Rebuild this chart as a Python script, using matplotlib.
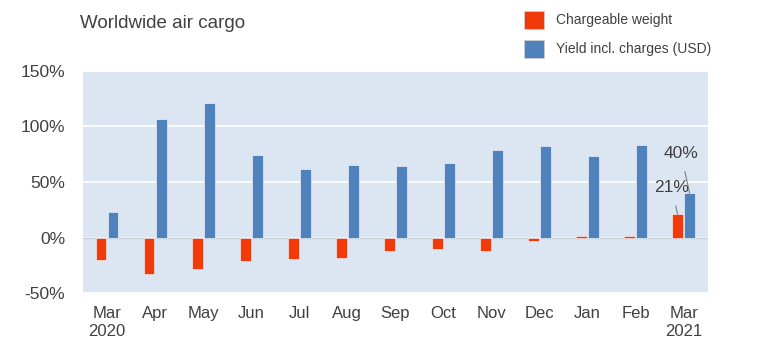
import numpy as np
import matplotlib.pyplot as plt
from matplotlib.patches import Rectangle

# === Data ===
months = ["Mar\n2020", "Apr", "May", "Jun", "Jul", "Aug", "Sep",
          "Oct", "Nov", "Dec", "Jan", "Feb", "Mar\n2021"]
weight = [-20, -33, -28, -21, -19, -18, -12, -10, -12, -3, 1, 1, 21]
yield_usd = [23, 107, 121, 74, 62, 65, 64, 67, 79, 82, 73, 83, 40]

RED = "#F03A0A"
BLUE = "#4F81BD"
BG = "#DCE6F2"
TXT = "#404040"

plt.rcParams["font.family"] = ["Liberation Sans", "DejaVu Sans"]

fig = plt.figure(figsize=(7.7, 3.49), dpi=100)
ax = fig.add_axes([0.108, 0.160, 0.811, 0.637])
ax.set_facecolor(BG)

x = np.arange(len(months))
w = 0.22
ax.bar(x - 0.125, weight, w, color=RED, edgecolor="white", linewidth=0.4, zorder=3)
ax.bar(x + 0.125, yield_usd, w, color=BLUE, edgecolor="white", linewidth=0.4, zorder=3)

ax.set_xlim(-0.5, len(months) - 0.5)
ax.set_ylim(-50, 150)
ax.set_yticks([-50, 0, 50, 100, 150])
ax.set_yticklabels(["-50%", "0%", "50%", "100%", "150%"], fontsize=12.5, color=TXT)
ax.yaxis.grid(True, color="white", linewidth=1.2, zorder=0)
ax.axhline(0, color="#C8CDD3", linewidth=1.0, zorder=2)
ax.set_xticks(x)
ax.set_xticklabels(months, fontsize=12, color=TXT, linespacing=1.25)
ax.tick_params(length=0, pad=9)
ax.tick_params(axis="y", pad=13)
for s in ax.spines.values():
    s.set_visible(False)

# labels for the latest month
last = len(months) - 1
ax.annotate(f"{yield_usd[last]}%", xy=(last + 0.125, yield_usd[last]),
            xytext=(last - 0.06, yield_usd[last] + 36), ha="center", va="center",
            fontsize=12.5, color=TXT,
            arrowprops=dict(arrowstyle="-", color="#808080", lw=0.8, shrinkA=6, shrinkB=0))
ax.annotate(f"{weight[last]}%", xy=(last - 0.125, weight[last]),
            xytext=(last - 0.25, weight[last] + 24), ha="center", va="center",
            fontsize=12.5, color=TXT,
            arrowprops=dict(arrowstyle="-", color="#808080", lw=0.8, shrinkA=6, shrinkB=0))

fig.text(0.104, 0.933, "Worldwide air cargo", fontsize=13.5, color=TXT, va="center")

# legend
for i, (lab, col) in enumerate([("Chargeable weight", RED),
                                ("Yield incl. charges (USD)", BLUE)]):
    yy = 1 - (20 + 29 * i) / 349
    fig.patches.append(Rectangle((524 / 770, yy - 9 / 349), 20 / 770, 18 / 349,
                                 transform=fig.transFigure, facecolor=col,
                                 edgecolor="#D0D0D0", linewidth=0.5))
    fig.text(556 / 770, yy, lab, fontsize=10, color=TXT, va="center")

fig.savefig("out.png", dpi=100, facecolor="white")
